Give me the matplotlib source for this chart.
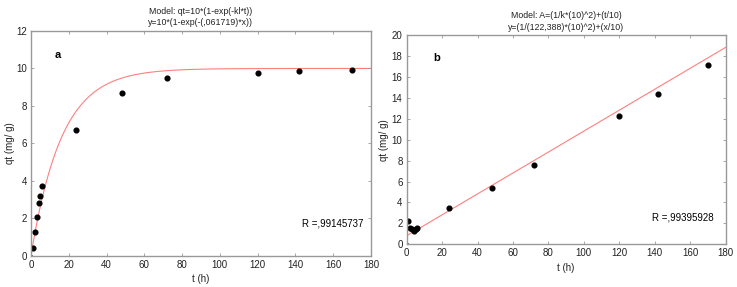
import numpy as np
import matplotlib
matplotlib.use('Agg')
import matplotlib.pyplot as plt

plt.rcParams['font.family'] = ['Liberation Sans', 'DejaVu Sans']

# kinetic data, panel a (pseudo-first order)
t_a = [0, 1, 2, 3, 4, 5, 6, 24, 48, 72, 120, 142, 170]
qt_a = [0.0, 0.42, 1.27, 2.07, 2.8, 3.2, 3.7, 6.7, 8.7, 9.47, 9.75, 9.85, 9.9]
k1 = 0.061719

# panel b (pseudo-second order, linear form)
t_b = [0, 1, 2, 3, 4, 5, 6, 24, 48, 72, 120, 142, 170]
qt_b = [0.0, 2.23, 1.56, 1.43, 1.3, 1.43, 1.53, 3.5, 5.41, 7.55, 12.23, 14.33, 17.1]
k2 = 122.388

spine_col = '#999999'
fit_col = '#ff7f7f'


def style(ax, ymax, ystep):
    ax.set_xlim(0, 180)
    ax.set_ylim(0, ymax)
    ax.set_xticks(np.arange(0, 181, 20))
    ax.set_yticks(np.arange(0, ymax + 0.1, ystep))
    ax.tick_params(direction='in', length=2, width=0.6, color=spine_col,
                   top=True, right=True, labelsize=7, pad=3, labelcolor='#222222')
    for s in ax.spines.values():
        s.set_color(spine_col)
        s.set_linewidth(1.0)
    ax.set_xlabel('t (h)', fontsize=7, labelpad=3, color='#222222')
    ax.set_ylabel('qt (mg/ g)', fontsize=7, color='#222222')


fig = plt.figure(figsize=(7.37, 2.87), dpi=100)

ax1 = fig.add_axes([0.042, 0.109, 0.4613, 0.783])
tt = np.linspace(0, 180, 400)
ax1.plot(tt, 10 * (1 - np.exp(-k1 * tt)), color=fit_col, lw=0.8, zorder=1)
ax1.plot(t_a[1:], qt_a[1:], 'o', color='black', ms=3.4, zorder=2)
ax1.plot(t_a[:1], qt_a[:1], 'o', color='black', ms=1.2, zorder=2)
style(ax1, 12, 2)
ax1.set_title('Model: qt=10*(1-exp(-kl*t))\ny=10*(1-exp(-(,061719)*x))',
              fontsize=6.3, pad=4, linespacing=1.3, color='#222222')
ax1.text(14, 10.7, 'a', fontsize=8, fontweight='bold', ha='center', va='center')
ax1.text(160, 1.7, 'R =,99145737', fontsize=7, ha='center', va='center')
ax1.yaxis.set_label_coords(-0.048, 0.5)

ax2 = fig.add_axes([0.5518, 0.1488, 0.4326, 0.729])
ax2.plot(tt, 100 / k2 + tt / 10, color=fit_col, lw=0.8, zorder=1)
ax2.plot(t_b[1:], qt_b[1:], 'o', color='black', ms=3.4, zorder=2)
ax2.plot(t_b[:1], qt_b[:1], 'o', color='black', ms=1.2, zorder=2)
style(ax2, 20, 2)
ax2.set_title('Model: A=(1/k*(10)^2)+(t/10)\ny=(1/(122,388)*(10)^2)+(x/10)',
              fontsize=6.3, pad=4, linespacing=1.3, color='#222222')
ax2.text(17, 17.8, 'b', fontsize=8, fontweight='bold', ha='center', va='center')
ax2.text(156, 2.6, 'R =,99395928', fontsize=7, ha='center', va='center')
ax2.yaxis.set_label_coords(-0.055, 0.5)

fig.savefig('out.png', dpi=100)
